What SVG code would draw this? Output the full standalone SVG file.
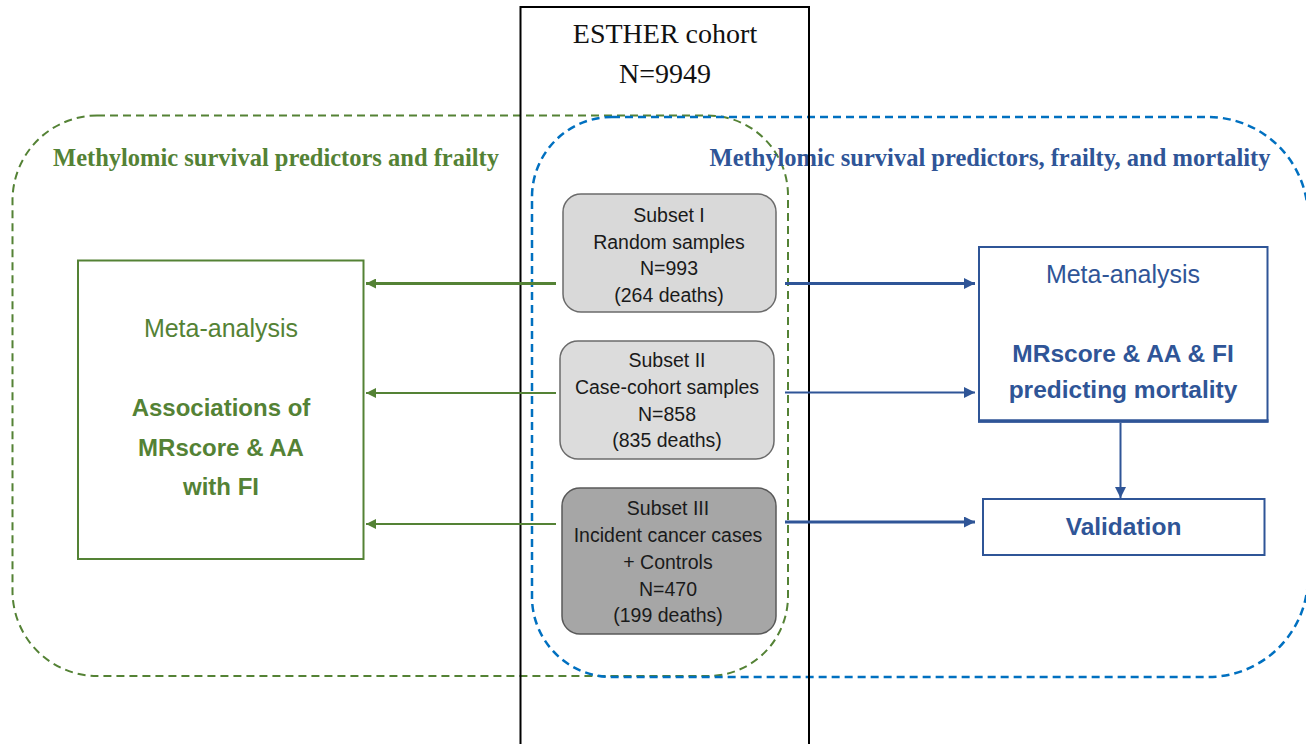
<svg xmlns="http://www.w3.org/2000/svg" width="1306" height="744" viewBox="0 0 1306 744">
<style>
.serif{font-family:"Liberation Serif","Times New Roman",serif}
.sans{font-family:"Liberation Sans",Arial,sans-serif}
.sub{font-family:"Liberation Sans",Arial,sans-serif;font-size:19.5px;fill:#1a1a1a;text-anchor:middle}
.g{fill:#548235}
.b{fill:#2F5597}
.mid{text-anchor:middle}
.bold{font-weight:bold}
.gline{stroke:#548235;fill:none}
.bline{stroke:#2F5597;fill:none}
</style>
<defs>
<marker id="ag" viewBox="0 0 10 10" refX="10" refY="5" markerWidth="11" markerHeight="10" markerUnits="userSpaceOnUse" orient="auto"><path d="M0,0 L10,5 L0,10 z" fill="#548235"/></marker>
<marker id="ab" viewBox="0 0 10 10" refX="10" refY="5" markerWidth="12" markerHeight="11" markerUnits="userSpaceOnUse" orient="auto"><path d="M0,0 L10,5 L0,10 z" fill="#2F5597"/></marker>
</defs>
<rect width="1306" height="744" fill="#fff"/>

<g id="green-region">
<path d="M97,115.5 H708 A80,80 0 0 1 788,195.5 V596 A80,80 0 0 1 708,676 H97 A85,85 0 0 1 12.5,591 V200 A85,85 0 0 1 97,115.5 Z" fill="none" stroke="#548235" stroke-width="2" stroke-dasharray="8,5"/>
<text class="serif bold g" x="276" y="166" font-size="24.5" text-anchor="middle">Methylomic survival predictors and frailty</text>
</g>

<g id="blue-region">
<path d="M612,117 H1208 A100,100 0 0 1 1308,217 V577 A100,100 0 0 1 1208,677 H612 A80,80 0 0 1 532,597 V197 A80,80 0 0 1 612,117 Z" fill="none" stroke="#0070C0" stroke-width="2.5" stroke-dasharray="8,5"/>
<text class="serif bold b" x="990" y="166" font-size="24.5" text-anchor="middle">Methylomic survival predictors, frailty, and mortality</text>
</g>

<g id="esther-cohort">
<path d="M520.5,750 V7 H809 V750" fill="none" stroke="#000" stroke-width="2"/>
<text class="serif mid" x="665" y="43" font-size="28" fill="#111">ESTHER cohort</text>
<text class="serif mid" x="665" y="83" font-size="28" fill="#111">N=9949</text>
</g>

<g id="subset1">
<rect x="563" y="194" width="213" height="118" rx="18" fill="#D9D9D9" stroke="#6b6b6b" stroke-width="1.5"/>
<text class="sub" x="669" y="222">Subset I</text>
<text class="sub" x="669" y="248.5">Random samples</text>
<text class="sub" x="669" y="275">N=993</text>
<text class="sub" x="669" y="301.5">(264 deaths)</text>
</g>

<g id="subset2">
<rect x="560" y="341" width="214" height="118" rx="18" fill="#DCDCDC" stroke="#6b6b6b" stroke-width="1.5"/>
<text class="sub" x="667" y="367">Subset II</text>
<text class="sub" x="667" y="394">Case-cohort samples</text>
<text class="sub" x="667" y="420.5">N=858</text>
<text class="sub" x="667" y="447">(835 deaths)</text>
</g>

<g id="subset3">
<rect x="562" y="488" width="214" height="146" rx="18" fill="#A6A6A6" stroke="#595959" stroke-width="1.5"/>
<text class="sub" x="668" y="515">Subset III</text>
<text class="sub" x="668" y="542">Incident cancer cases</text>
<text class="sub" x="668" y="569">+ Controls</text>
<text class="sub" x="668" y="595.5">N=470</text>
<text class="sub" x="668" y="622">(199 deaths)</text>
</g>

<g id="meta-frailty">
<rect x="78" y="260.5" width="285.5" height="298.5" fill="#fff" stroke="#548235" stroke-width="2"/>
<text class="sans g mid" x="221" y="337" font-size="25">Meta-analysis</text>
<text class="sans g mid bold" x="221" y="415.5" font-size="24">Associations of</text>
<text class="sans g mid bold" x="221" y="455.5" font-size="24">MRscore &amp; AA</text>
<text class="sans g mid bold" x="221" y="494.5" font-size="24">with FI</text>
</g>

<g id="meta-mortality">
<rect x="979" y="247" width="288.5" height="174.5" fill="#fff" stroke="#2F5597" stroke-width="2"/>
<line x1="978" y1="421" x2="1268.5" y2="421" stroke="#2F5597" stroke-width="3.5"/>
<text class="sans b mid" x="1123" y="283" font-size="25">Meta-analysis</text>
<text class="sans b mid bold" x="1123" y="362" font-size="24.5">MRscore &amp; AA &amp; FI</text>
<text class="sans b mid bold" x="1123" y="398" font-size="24.5">predicting mortality</text>
</g>

<g id="validation">
<rect x="983" y="499" width="281.5" height="56" fill="#fff" stroke="#2F5597" stroke-width="2"/>
<text class="sans b mid bold" x="1123.5" y="535" font-size="24.5">Validation</text>
</g>

<g id="connectors">
<line class="gline" x1="556" y1="283.5" x2="366" y2="283.5" stroke-width="3" marker-end="url(#ag)"/>
<line class="gline" x1="556" y1="393" x2="366" y2="393" stroke-width="1.8" marker-end="url(#ag)"/>
<line class="gline" x1="556" y1="524" x2="366" y2="524" stroke-width="1.8" marker-end="url(#ag)"/>
<line class="bline" x1="785" y1="283.5" x2="975" y2="283.5" stroke-width="3" marker-end="url(#ab)"/>
<line class="bline" x1="785" y1="392.5" x2="975" y2="392.5" stroke-width="1.8" marker-end="url(#ab)"/>
<line class="bline" x1="785" y1="522" x2="975" y2="522" stroke-width="3" marker-end="url(#ab)"/>
<line class="bline" x1="1120.5" y1="423" x2="1120.5" y2="498" stroke-width="2" marker-end="url(#ab)"/>
</g>
</svg>
